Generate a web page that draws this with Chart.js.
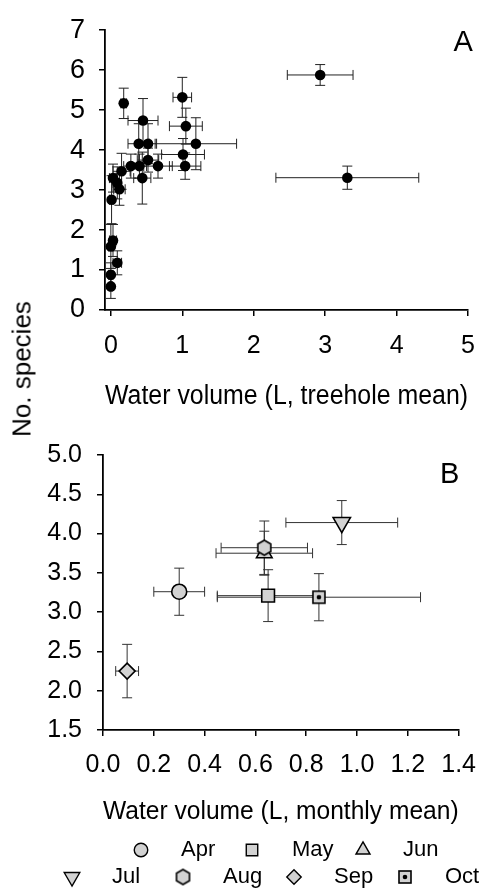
<!DOCTYPE html>
<html><head><meta charset="utf-8">
<script src="https://cdn.jsdelivr.net/npm/chart.js@4.4.0/dist/chart.umd.min.js"></script>
<style>
html,body{margin:0;padding:0;background:#fff;width:490px;height:890px;overflow:hidden}
#wrap{position:relative;width:490px;height:890px}
canvas{position:absolute;left:0}
#cA{top:0}
#cB{top:425px}
#ylab{position:absolute;left:22px;top:369px;transform:translate(-50%,-50%) rotate(-90deg);font:26px 'Liberation Sans',Arial,sans-serif;white-space:nowrap;color:#000}
</style></head>
<body><div id="wrap"><canvas id="cA" width="490" height="425"></canvas><canvas id="cB" width="490" height="465"></canvas><div id="ylab"></div></div>
<script>
const FONT = "'Liberation Sans', Arial, sans-serif";

// ---------- Panel A data (treehole means) ----------
const volA    = [0.18, 0.45, 1.00, 1.05, 1.19, 0.39, 0.52, 1.01, 1.04, 0.52, 0.66, 0.44, 0.40, 0.28, 0.15, 0.03, 0.09, 0.12, 0.01, 0.03, 0.00, 0.09, 0.00, 0.00, 2.93, 3.31];
const sppA    = [5.17, 4.74, 5.32, 4.60, 4.16, 4.16, 4.16, 3.89, 3.60, 3.75, 3.60, 3.30, 3.60, 3.60, 3.47, 3.30, 3.18, 3.02, 2.76, 1.74, 1.59, 1.18, 0.88, 0.59, 5.88, 3.31];
const volErrA = [0.04, 0.21, 0.13, 0.23, 0.57, 0.15, 0.12, 0.30, 0.22, 0.15, 0.20, 0.12, 0.10, 0.10, 0.12, 0.05, 0.06, 0.08, 0.03, 0.05, 0.03, 0.06, 0.03, 0.02, 0.46, 1.00];
const sppErrA = [0.38, 0.55, 0.50, 0.45, 0.65, 0.50, 0.50, 0.40, 0.33, 0.30, 0.30, 0.65, 0.30, 0.30, 0.45, 0.35, 0.40, 0.40, 0.60, 0.40, 0.55, 0.30, 0.30, 0.30, 0.26, 0.29];
const xTicksA = [0, 1, 2, 3, 4, 5];
const yTicksA = [0, 1, 2, 3, 4, 5, 6, 7];

// ---------- Panel B data (monthly means) ----------
const months  = ['Apr', 'May', 'Jun', 'Jul', 'Aug', 'Sep', 'Oct'];
const volB    = [0.30, 0.65, 0.635, 0.94, 0.635, 0.095, 0.85];
const sppB    = [3.26, 3.21, 3.75, 4.14, 3.82, 2.25, 3.19];
const volErrB = [0.10, 0.20, 0.19, 0.22, 0.17, 0.045, 0.40];
const sppErrB = [0.30, 0.33, 0.28, 0.28, 0.34, 0.34, 0.30];
const xTicksB = [0, 0.2, 0.4, 0.6, 0.8, 1.0, 1.2, 1.4];
const yTicksB = [1.5, 2.0, 2.5, 3.0, 3.5, 4.0, 4.5, 5.0];

const texts = { xA: 'Water volume (L, treehole mean)', xB: 'Water volume (L, monthly mean)', y: 'No. species', A: 'A', B: 'B' };
document.getElementById('ylab').textContent = texts.y;

// ---------- marker images ----------
const GREY = '#d2d2d2';
function hexMarker(r) {
  const s = Math.ceil(2 * r + 4), c = document.createElement('canvas');
  c.width = c.height = s; const g = c.getContext('2d');
  g.translate(s / 2, s / 2); g.beginPath();
  for (let i = 0; i < 6; i++) { const a = (-90 + 60 * i) * Math.PI / 180; g.lineTo(r * Math.cos(a), r * Math.sin(a)); }
  g.closePath(); g.fillStyle = GREY; g.fill(); g.lineWidth = 1.6; g.strokeStyle = '#000'; g.stroke();
  return c;
}
function sqDotMarker(h) {
  const s = Math.ceil(2 * h + 4), c = document.createElement('canvas');
  c.width = c.height = s; const g = c.getContext('2d');
  g.translate(s / 2, s / 2);
  g.fillStyle = GREY; g.fillRect(-h, -h, 2 * h, 2 * h);
  g.lineWidth = 1.6; g.strokeStyle = '#000'; g.strokeRect(-h, -h, 2 * h, 2 * h);
  g.beginPath(); g.arc(0, 0, 2.3, 0, Math.PI * 2); g.fillStyle = '#000'; g.fill();
  return c;
}
const monthStyles = [
  { pointStyle: 'circle', r: 7.5, rot: 0, order: 0 },
  { pointStyle: 'rect', r: 9, rot: 0, order: 0 },
  { pointStyle: 'triangle', r: 9, rot: 0, order: 0 },
  { pointStyle: 'triangle', r: 10, rot: 180, order: 0 },
  { pointStyle: hexMarker(7.5), r: 7.5, rot: 0, order: -1 },
  { pointStyle: 'rectRot', r: 8, rot: 0, order: 0 },
  { pointStyle: sqDotMarker(6), r: 6, rot: 0, order: 0 }
];

// ---------- plugins ----------
const errorBars = {
  id: 'errorBars',
  beforeDatasetsDraw(chart, args, o) {
    const { ctx, scales: { x, y } } = chart;
    ctx.save(); ctx.strokeStyle = o.color; ctx.lineWidth = o.lineWidth;
    chart.data.datasets.forEach(ds => {
      ds.data.forEach((p, i) => {
        const ex = ds.errX[i], ey = ds.errY[i], c = o.cap;
        const px = x.getPixelForValue(p.x), py = y.getPixelForValue(p.y);
        const x0 = x.getPixelForValue(p.x - ex), x1 = x.getPixelForValue(p.x + ex);
        const y0 = y.getPixelForValue(p.y - ey), y1 = y.getPixelForValue(p.y + ey);
        ctx.beginPath();
        ctx.moveTo(x0, py); ctx.lineTo(x1, py);
        ctx.moveTo(x0, py - c); ctx.lineTo(x0, py + c);
        ctx.moveTo(x1, py - c); ctx.lineTo(x1, py + c);
        ctx.moveTo(px, y0); ctx.lineTo(px, y1);
        ctx.moveTo(px - c, y0); ctx.lineTo(px + c, y0);
        ctx.moveTo(px - c, y1); ctx.lineTo(px + c, y1);
        ctx.stroke();
      });
    });
    ctx.restore();
  }
};
const panelLabel = {
  id: 'panelLabel',
  afterDraw(chart, args, o) {
    const { ctx, chartArea } = chart;
    ctx.save(); ctx.font = o.size + 'px ' + FONT; ctx.fillStyle = '#000';
    ctx.textAlign = 'center'; ctx.textBaseline = 'middle';
    ctx.fillText(o.text, chartArea.right + o.dx, chartArea.top + o.dy);
    ctx.restore();
  }
};
const rowLegend = {
  id: 'rowLegend',
  afterDraw(chart, args, o) {
    if (!o.rows) return;
    const ctx = chart.ctx;
    o.rows.forEach((row, r) => {
      row.forEach((di, k) => {
        const ds = chart.data.datasets[di];
        const mx = o.x0[r] + k * o.stride, my = o.y[r];
        ctx.save();
        ctx.fillStyle = ds.pointBackgroundColor; ctx.strokeStyle = ds.pointBorderColor; ctx.lineWidth = 1.4;
        Chart.helpers.drawPoint(ctx, { pointStyle: ds.pointStyle, radius: ds.pointRadius * 0.9, rotation: ds.pointRotation || 0, borderWidth: 1.4 }, mx, my);
        ctx.restore();
        ctx.save(); ctx.font = o.size + 'px ' + FONT; ctx.fillStyle = '#000';
        ctx.textAlign = 'left'; ctx.textBaseline = 'middle';
        ctx.fillText(ds.label, mx + o.gap, my);
        ctx.restore();
      });
    });
  }
};

function axis(opts) {
  return {
    type: 'linear', min: opts.min, max: opts.max,
    afterBuildTicks: s => { s.ticks = opts.ticks.map(v => ({ value: v })); },
    afterFit: s => { if (opts.width) s.width = opts.width; if (opts.height) s.height = opts.height; },
    grid: { display: true, drawOnChartArea: false, drawTicks: true, tickLength: 6, color: '#000', lineWidth: 1.5 },
    border: { display: true, color: '#000', width: 1.8 },
    ticks: { color: '#000', font: { family: FONT, size: opts.fs }, padding: opts.pad, maxRotation: 0, autoSkip: false,
             callback: opts.fmt || (v => String(v)) },
    title: opts.title ? { display: true, text: opts.title, color: '#000', font: { family: FONT, size: opts.tfs }, padding: { top: 0, bottom: opts.tpad } } : { display: false }
  };
}

Chart.register(errorBars, panelLabel, rowLegend);

new Chart(document.getElementById('cA'), {
  type: 'scatter',
  data: { datasets: [{
    label: 'Treeholes',
    data: volA.map((v, i) => ({ x: v, y: sppA[i] })),
    errX: volErrA, errY: sppErrA,
    pointRadius: 5.3, pointBackgroundColor: '#000', pointBorderColor: '#000', pointBorderWidth: 0
  }] },
  options: {
    responsive: false, animation: false, events: [],
    layout: { padding: { left: 0, right: 14, top: 24, bottom: 0 } },
    plugins: { legend: { display: false }, tooltip: { enabled: false },
      errorBars: { color: '#222', lineWidth: 1, cap: 5 },
      panelLabel: { text: texts.A, size: 29, dx: -5, dy: 13 } },
    scales: {
      x: axis({ min: -0.082, max: 5, ticks: xTicksA, fs: 25, pad: 15, height: 115, title: texts.xA, tfs: 27, tpad: 12 }),
      y: axis({ min: 0, max: 7, ticks: yTicksA, fs: 27, pad: 14, width: 105 })
    }
  }
});

new Chart(document.getElementById('cB'), {
  type: 'scatter',
  data: { datasets: months.map((m, i) => ({
    label: m,
    data: [{ x: volB[i], y: sppB[i] }],
    errX: [volErrB[i]], errY: [sppErrB[i]],
    order: monthStyles[i].order,
    pointStyle: monthStyles[i].pointStyle, pointRadius: monthStyles[i].r, pointRotation: monthStyles[i].rot,
    pointBackgroundColor: GREY, pointBorderColor: '#000', pointBorderWidth: 1.6
  })) },
  options: {
    responsive: false, animation: false, events: [],
    layout: { padding: { left: 0, right: 18, top: 18, bottom: 0 } },
    plugins: { legend: { display: false }, tooltip: { enabled: false },
      errorBars: { color: '#333', lineWidth: 1, cap: 5 },
      panelLabel: { text: texts.B, size: 29, dx: -9, dy: 20 },
      rowLegend: { rows: [[0, 1, 2], [3, 4, 5, 6]], x0: [141, 72], y: [425, 452], stride: 111, gap: 40, size: 22 } },
    scales: {
      x: axis({ min: 0, max: 1.4, ticks: xTicksB, fs: 25, pad: 14, height: 160, title: texts.xB, tfs: 26.5, tpad: 62, fmt: v => v.toFixed(1) }),
      y: axis({ min: 1.5, max: 5.0, ticks: yTicksB, fs: 25, pad: 15, width: 103, fmt: v => v.toFixed(1) })
    }
  }
});
</script>
</body></html>
